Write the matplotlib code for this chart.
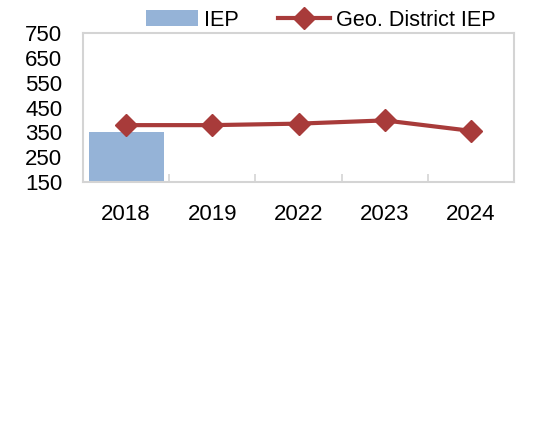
import numpy as np
import matplotlib
matplotlib.use("Agg")
import matplotlib.pyplot as plt

# ==========================================
# Data
# ==========================================
years = ["2018", "2019", "2022", "2023", "2024"]
iep = [350, np.nan, np.nan, np.nan, np.nan]
geo_district_iep = [379, 379, 385, 398, 356]
y_ticks = [150, 250, 350, 450, 550, 650, 750]

bar_color = "#95B3D7"
line_color = "#A83B3A"
frame_color = "#D4D4D4"

plt.rcParams['font.family'] = ['Liberation Sans', 'DejaVu Sans']
fs = 16

fig = plt.figure(figsize=(5.39, 4.38), dpi=100)
ax = fig.add_axes([83 / 539, 1 - 182 / 438, (514 - 83) / 539, (182 - 33) / 438])

x = np.arange(len(years))
bars = ax.bar(x, iep, width=0.87, color=bar_color, label="IEP", zorder=2)
line, = ax.plot(x, geo_district_iep, color=line_color, lw=3, marker="D", ms=11,
                label="Geo. District IEP", zorder=3)

ax.set_xlim(-0.5, len(years) - 0.5)
ax.set_ylim(150, 750)
ax.set_yticks(y_ticks)
ax.set_xticks(x)
ax.set_xticklabels(years)
ax.set_xticks(x[:-1] + 0.5, minor=True)

ax.tick_params(axis='y', length=0, pad=15, labelsize=fs)
ax.tick_params(axis='x', which='major', length=0, pad=16, labelsize=fs)
ax.tick_params(axis='x', which='minor', direction='in', length=6,
               width=1.2, color=frame_color)

for sp in ax.spines.values():
    sp.set_color(frame_color)
    sp.set_linewidth(1.5)

fig.legend(handles=[bars, line], loc='center',
           bbox_to_anchor=(321 / 539, 1 - 20 / 438), ncol=2,
           frameon=False, fontsize=15.6, handlelength=2.4, handletextpad=0.28,
           columnspacing=1.8, borderpad=0, borderaxespad=0)

fig.savefig("out.png", dpi=100, facecolor="white")
